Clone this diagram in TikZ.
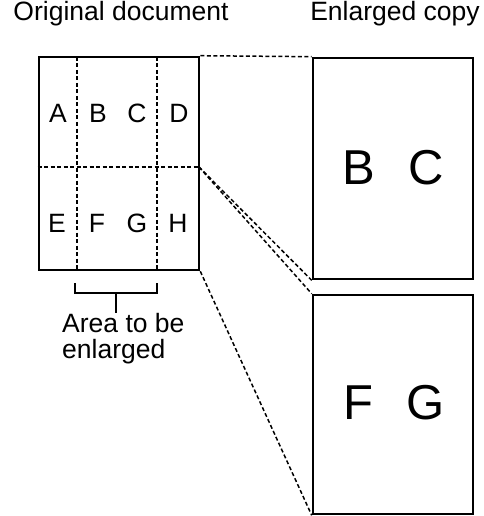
\documentclass[tikz,border=0pt]{standalone}
\usepackage{fontspec}
\setmainfont{Liberation Sans}
\begin{document}
\begin{tikzpicture}[x=1pt, y=-1pt]
    % Estilos
    \tikzset{page/.style={draw=black, line width=2.6pt, minimum width=160pt, inner sep=0pt},
             cut/.style={dashed, line width=1.7pt, dash pattern=on 4pt off 2.5pt},
             link/.style={dashed, line width=1.5pt, dash pattern=on 4pt off 2.5pt},
             letter/.style={font=\fontsize{26.5}{27}\selectfont},
             big/.style={font=\fontsize{49}{50}\selectfont},
             caption/.style={font=\fontsize{26.5}{26}\selectfont, anchor=base}}
    \useasboundingbox (0,0) rectangle (483,516);

    % --- Títulos ---
    \node[caption] (tOrig) at (121,21) {Original document};
    \node[caption] (tCopy) at (395,21) {Enlarged copy};

    % --- Hojas ---
    \node[page, minimum height=213pt] (orig) at (119,163.5) {};
    \node[page, minimum height=221pt] (top) at (393,168.5) {};
    \node[page, minimum height=219pt] (bot) at (393,404.5) {};

    % Coordenadas de la cuadrícula
    \coordinate (split) at (199,167);
    \coordinate (cutL) at (77,57);
    \coordinate (cutR) at (157,57);

    % --- Cortes discontinuos ---
    \draw[cut] (cutL) -- (cutL |- orig.south);
    \draw[cut] (cutR) -- (cutR |- orig.south);
    \draw[cut] (orig.west |- split) -- (split);

    % --- Letras del original ---
    \node[letter] (A) at (58,113) {A};
    \node[letter] (B) at (98,113) {B};
    \node[letter] (C) at (137,113) {C};
    \node[letter] (D) at (179,113) {D};
    \node[letter] (E) at (57,223) {E};
    \node[letter] (F) at (97,223) {F};
    \node[letter] (G) at (137,223) {G};
    \node[letter] (H) at (178,223) {H};

    % --- Letras ampliadas ---
    \node[big] (bigB) at (359,168) {B};
    \node[big] (bigC) at (426,168) {C};
    \node[big] (bigF) at (358,403) {F};
    \node[big] (bigG) at (426,403) {G};

    % --- Líneas de proyección ---
    \draw[link] (orig.north east) -- (top.north west);
    \draw[link] (split) -- (top.south west);
    \draw[link] (split) -- (bot.north west);
    \draw[link] (orig.south east) -- (bot.south west);

    % --- Zona a ampliar ---
    \node[caption, anchor=north west, align=left, inner sep=0pt] (area) at (62,313)
        {Area to be\\enlarged};
    \coordinate (brL) at (75,283);
    \coordinate (brR) at (157,283);
    \coordinate (brM) at (116,293);
    \draw[line width=1.7pt] (brL) -- (brL |- brM) -- (brR |- brM) -- (brR);
    \draw[line width=1.7pt] (brM) -- (brM |- area.north);
\end{tikzpicture}
\end{document}
